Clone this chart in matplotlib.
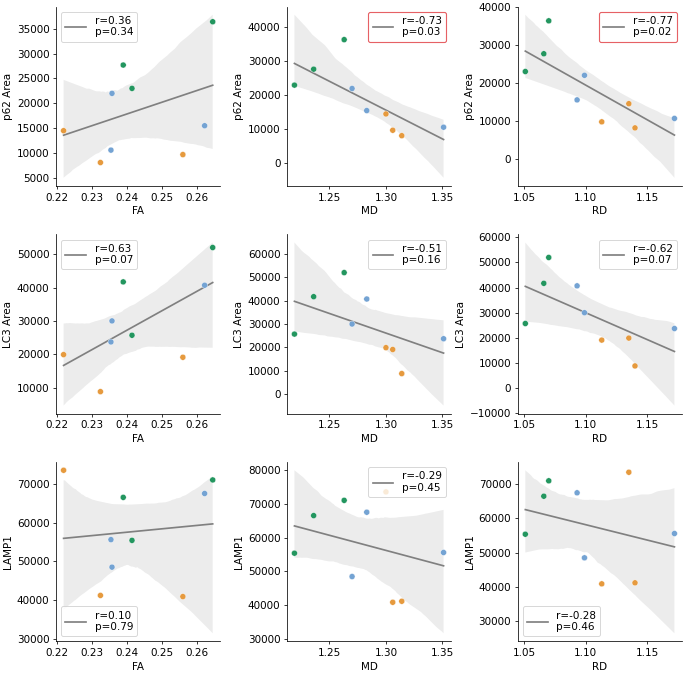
#!/usr/bin/env python3
"""Scatter + regression grid: DTI metrics vs autophagy markers."""

import matplotlib
matplotlib.use("Agg")
import matplotlib.pyplot as plt
from matplotlib.lines import Line2D
import numpy as np
import seaborn as sns

# one entry per subject (3 groups x 3 subjects)
group = ["g", "g", "g", "b", "b", "b", "o", "o", "o"]
FA = [0.2415, 0.239, 0.2645, 0.2358, 0.2622, 0.2355, 0.222, 0.256, 0.2325]
MD = [1.219, 1.236, 1.263, 1.270, 1.283, 1.351, 1.300, 1.306, 1.314]
RD = [1.051, 1.066, 1.070, 1.099, 1.093, 1.172, 1.135, 1.113, 1.140]
p62 = [23000, 27700, 36400, 22000, 15500, 10600, 14500, 9700, 8100]
LC3 = [25700, 41700, 52000, 30000, 40700, 23700, 19900, 19100, 8800]
LAMP1 = [55400, 66500, 71000, 48500, 67500, 55600, 73500, 40900, 41200]

x_names = ["FA", "MD", "RD"]
y_names = ["p62 Area", "LC3 Area", "LAMP1"]
x_data = [FA, MD, RD]
y_data = [p62, LC3, LAMP1]

# legend text per panel (row, col)
stats = [
    ["r=0.36\np=0.34", "r=-0.73\np=0.03", "r=-0.77\np=0.02"],
    ["r=0.63\np=0.07", "r=-0.51\np=0.16", "r=-0.62\np=0.07"],
    ["r=0.10\np=0.79", "r=-0.29\np=0.45", "r=-0.28\np=0.46"],
]
legend_locs = [
    ["upper left", "upper right", "upper right"],
    ["upper left", "upper right", "upper right"],
    ["lower left", "upper right", "lower left"],
]
significant = [(0, 1), (0, 2)]

COLORS = {"g": "#23965f", "b": "#74a3d3", "o": "#e69a3e"}

plt.rcParams["font.size"] = 11

DPI = 68
fig, axes = plt.subplots(3, 3, figsize=(685 / DPI, 675 / DPI), dpi=DPI)

for i in range(3):
    for j in range(3):
        ax = axes[i, j]
        x = np.array(x_data[j])
        y = np.array(y_data[i])
        sns.regplot(x=x, y=y, ax=ax, scatter=False, color="gray", ci=95,
                    seed=3, line_kws={"lw": 1.8})
        ax.scatter(x, y, c=[COLORS[g] for g in group], s=40,
                   edgecolors="white", linewidths=0.4, zorder=3)
        ax.set_xlabel(x_names[j])
        ax.set_ylabel(y_names[i])
        ax.spines["top"].set_visible(False)
        ax.spines["right"].set_visible(False)
        handle = Line2D([], [], color="gray", lw=1.8)
        leg = ax.legend([handle], [stats[i][j]], loc=legend_locs[i][j])
        if (i, j) in significant:
            frame = leg.get_frame()
            frame.set_edgecolor("#e0393e")
            frame.set_linewidth(1.2)

fig.tight_layout(pad=0.3, w_pad=1.0, h_pad=1.6)
fig.savefig("out.png", dpi=DPI)
